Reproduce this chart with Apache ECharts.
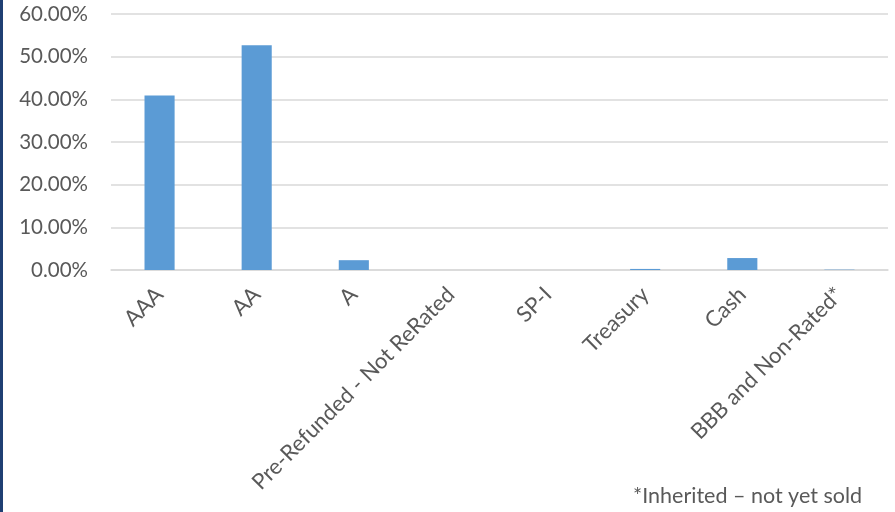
<!DOCTYPE html>
<html><head><meta charset="utf-8">
<script src="https://cdn.jsdelivr.net/npm/echarts@6/dist/echarts.min.js"></script>
<style>html,body{margin:0;padding:0;background:#fff}#c{width:895px;height:512px}#bar{position:absolute;left:0;top:0;width:3px;height:512px;background:#1f3f73}</style>
</head><body><div id="c"></div><div id="bar"></div>
<script>
var categories = ['AAA','AA','A','Pre-Refunded - Not ReRated','SP-I','Treasury','Cash','BBB and Non-Rated*'];
var values = [0.409, 0.527, 0.023, 0, 0, 0.0025, 0.028, 0.0008];
var yTicks = [0, 0.1, 0.2, 0.3, 0.4, 0.5, 0.6];
var footnote = '*Inherited \u2013 not yet sold';
var chart = echarts.init(document.getElementById('c'));
chart.setOption({
  animation:false,
  grid:{left:111,right:7,top:14,bottom:242},
  xAxis:{type:'category',data:categories,
    axisLine:{show:true,lineStyle:{color:'#d9d9d9',width:1.5}},axisTick:{show:false},
    axisLabel:{rotate:45,color:'#595959',fontSize:22,fontFamily:'Lato',margin:21,interval:0}},
  yAxis:{type:'value',min:0,max:0.6,interval:0.1,
    axisLine:{show:false},axisTick:{show:false},
    splitLine:{lineStyle:{color:'#d9d9d9',width:1.5}},
    axisLabel:{color:'#595959',fontSize:20.5,fontFamily:'Lato',margin:23,
      formatter:function(v){return (v*100).toFixed(2)+'%';}}},
  series:[{type:'bar',data:values,barWidth:'31%',itemStyle:{color:'#5b9bd5'}}],
  graphic:[{type:'text',right:33,bottom:5,style:{text:footnote,fill:'#595959',fontSize:21.5,fontFamily:'Lato'}}]
});
</script></body></html>
